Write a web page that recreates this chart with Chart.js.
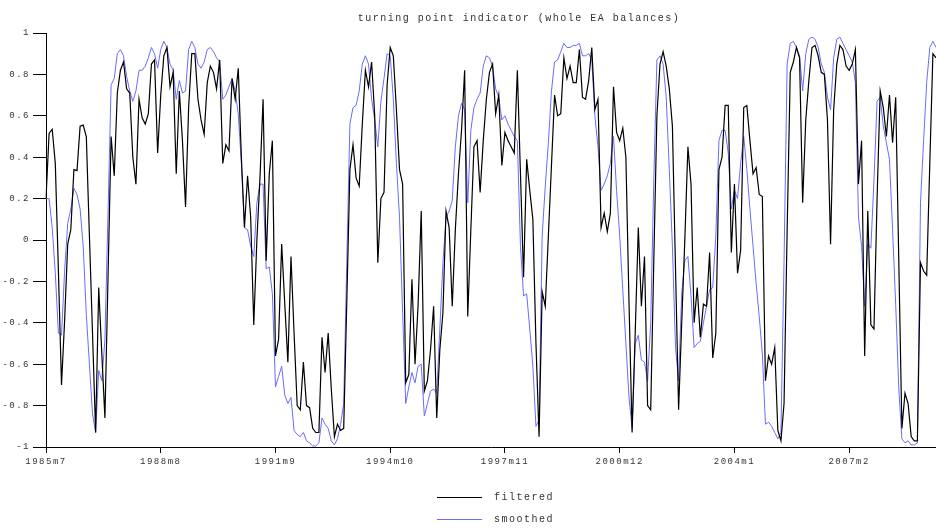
<!DOCTYPE html>
<html>
<head>
<meta charset="utf-8">
<script src="https://cdn.jsdelivr.net/npm/chart.js@4/dist/chart.umd.min.js"></script>
<style>
  html, body { margin: 0; padding: 0; background: #fff; }
  #wrap { width: 936px; height: 530px; position: relative; }
</style>
</head>
<body>
<div id="wrap"><canvas id="tpi"></canvas></div>
<script>
// Monthly turning point indicator, 1985m7 .. 2009m6
const startYear = 1985;
const startMonth = 7;
const monthCount = 288;
const labelEvery = 37;
const titleText = 'turning point indicator (whole EA balances)';

const months = [];
for (let i = 0; i < monthCount; i++) {
  const m = startMonth - 1 + i;
  months.push((startYear + Math.floor(m / 12)) + 'm' + (m % 12 + 1));
}

const filtered = [
  0.20, 0.515, 0.535, 0.37, -0.15, -0.70, -0.39, -0.02, 0.05, 0.34,
  0.335, 0.55, 0.555, 0.50, 0.02, -0.45, -0.93, -0.23, -0.55, -0.86,
  -0.18, 0.50, 0.31, 0.71, 0.82, 0.86, 0.73, 0.71, 0.40, 0.27,
  0.68, 0.59, 0.56, 0.61, 0.85, 0.87, 0.42, 0.70, 0.89, 0.93,
  0.74, 0.81, 0.32, 0.72, 0.48, 0.16, 0.64, 0.90, 0.90, 0.68,
  0.58, 0.51, 0.76, 0.84, 0.81, 0.73, 0.87, 0.37, 0.46, 0.43,
  0.78, 0.68, 0.83, 0.40, 0.06, 0.31, 0.11, -0.41, 0.00, 0.30,
  0.68, -0.10, 0.32, 0.48, -0.56, -0.48, -0.02, -0.31, -0.59, -0.08,
  -0.45, -0.80, -0.82, -0.59, -0.80, -0.81, -0.91, -0.93, -0.93, -0.47,
  -0.64, -0.45, -0.72, -0.95, -0.89, -0.92, -0.91, -0.30, 0.34, 0.46,
  0.30, 0.26, 0.56, 0.82, 0.74, 0.86, 0.60, -0.11, 0.20, 0.23,
  0.75, 0.93, 0.89, 0.63, 0.34, 0.27, -0.69, -0.65, -0.19, -0.60,
  -0.31, 0.14, -0.73, -0.68, -0.53, -0.32, -0.86, -0.53, -0.35, 0.14,
  0.06, -0.32, 0.05, 0.32, 0.53, 0.82, -0.37, 0.05, 0.45, 0.48,
  0.23, 0.48, 0.68, 0.81, 0.85, 0.61, 0.70, 0.36, 0.52, 0.48,
  0.45, 0.42, 0.82, 0.32, -0.18, 0.39, 0.24, 0.10, -0.50, -0.95,
  -0.25, -0.32, 0.02, 0.36, 0.70, 0.60, 0.61, 0.88, 0.78, 0.84,
  0.76, 0.76, 0.92, 0.69, 0.68, 0.77, 0.93, 0.63, 0.68, 0.06,
  0.13, 0.04, 0.13, 0.74, 0.52, 0.48, 0.54, 0.40, -0.30, -0.93,
  -0.45, 0.06, -0.32, -0.08, -0.80, -0.82, -0.10, 0.60, 0.85, 0.91,
  0.84, 0.73, 0.55, -0.14, -0.82, -0.40, 0.00, 0.45, 0.27, -0.40,
  -0.23, -0.47, -0.31, -0.32, -0.06, -0.57, -0.45, 0.34, 0.40, 0.65,
  0.65, -0.06, 0.27, -0.16, -0.05, 0.64, 0.65, 0.48, 0.32, 0.35,
  0.22, 0.21, -0.68, -0.56, -0.60, -0.52, -0.92, -0.97, -0.79, 0.05,
  0.81, 0.86, 0.93, 0.88, 0.18, 0.58, 0.77, 0.93, 0.94, 0.89,
  0.81, 0.80, 0.58, -0.02, 0.63, 0.85, 0.94, 0.92, 0.84, 0.82,
  0.85, 0.92, 0.27, 0.48, -0.56, 0.14, -0.41, -0.43, 0.20, 0.72,
  0.64, 0.50, 0.70, 0.47, 0.69, -0.10, -0.91, -0.74, -0.79, -0.95,
  -0.97, -0.97, -0.11, -0.15, -0.17, 0.37, 0.90, 0.88
];

const smoothed = [
  0.20, 0.20, 0.06, -0.16, -0.45, -0.46, -0.15, 0.08, 0.15, 0.25,
  0.22, 0.15, -0.03, -0.36, -0.60, -0.84, -0.93, -0.63, -0.68, -0.48,
  0.13, 0.75, 0.78, 0.90, 0.92, 0.89, 0.79, 0.72, 0.67, 0.72,
  0.82, 0.82, 0.84, 0.88, 0.93, 0.90, 0.83, 0.92, 0.96, 0.93,
  0.85, 0.82, 0.68, 0.77, 0.71, 0.72, 0.92, 0.96, 0.93, 0.85,
  0.83, 0.86, 0.92, 0.93, 0.91, 0.88, 0.86, 0.68, 0.70, 0.74,
  0.78, 0.72, 0.61, 0.37, 0.06, 0.05, -0.03, -0.08, 0.18, 0.27,
  0.27, -0.14, -0.13, -0.26, -0.71, -0.66, -0.61, -0.75, -0.79, -0.76,
  -0.92, -0.94, -0.95, -0.93, -0.97, -0.98, -0.995, -0.995, -0.98, -0.86,
  -0.89, -0.91, -0.97, -0.99, -0.96, -0.89, -0.79, -0.10, 0.56, 0.64,
  0.65, 0.72, 0.85, 0.89, 0.85, 0.68, 0.58, 0.45, 0.67, 0.78,
  0.90, 0.89, 0.68, 0.37, 0.11, -0.35, -0.79, -0.71, -0.64, -0.69,
  -0.61, -0.60, -0.85, -0.79, -0.73, -0.72, -0.74, -0.43, -0.11, 0.11,
  0.14, 0.19, 0.45, 0.60, 0.66, 0.63, 0.18, 0.53, 0.64, 0.68,
  0.71, 0.84, 0.89, 0.88, 0.84, 0.73, 0.69, 0.58, 0.60, 0.56,
  0.53, 0.50, 0.48, -0.03, -0.27, -0.26, -0.43, -0.61, -0.90, -0.87,
  0.02, 0.26, 0.47, 0.72, 0.86, 0.87, 0.91, 0.95, 0.93, 0.93,
  0.94, 0.94, 0.95, 0.89, 0.89, 0.90, 0.87, 0.60, 0.45, 0.24,
  0.27, 0.31, 0.37, 0.50, 0.24, 0.02, -0.24, -0.50, -0.76, -0.91,
  -0.50, -0.46, -0.58, -0.59, -0.68, -0.40, 0.29, 0.87, 0.89, 0.85,
  0.69, 0.34, -0.03, -0.52, -0.68, -0.26, -0.10, -0.08, -0.27, -0.52,
  -0.50, -0.49, -0.40, -0.32, -0.24, -0.23, 0.02, 0.48, 0.53, 0.53,
  0.42, 0.15, 0.24, 0.20, 0.37, 0.50, 0.34, 0.15, -0.03, -0.21,
  -0.37, -0.55, -0.89, -0.88, -0.90, -0.93, -0.96, -0.93, -0.10, 0.85,
  0.95, 0.96, 0.93, 0.89, 0.72, 0.90, 0.97, 0.98, 0.97, 0.93,
  0.85, 0.81, 0.69, 0.63, 0.88, 0.97, 0.98, 0.95, 0.92, 0.89,
  0.86, 0.76, 0.11, -0.03, -0.32, -0.02, -0.04, 0.29, 0.67, 0.69,
  0.55, 0.47, 0.39, 0.05, -0.31, -0.72, -0.96, -0.98, -0.97, -0.99,
  -0.99, -0.98, 0.18, 0.48, 0.76, 0.93, 0.96, 0.93
];

const monoFont = '"Liberation Mono", "DejaVu Sans Mono", monospace';
const textColor = '#333';

// Wide, typewriter-like lettering for every text on the canvas
const letterSpacingPlugin = {
  id: 'letterSpacing',
  beforeUpdate(chart) { chart.ctx.letterSpacing = '1.5px'; },
  beforeDraw(chart) { chart.ctx.letterSpacing = '1.5px'; }
};

// Title above the plot and a stacked legend beneath the axis
const titleAndLegend = {
  id: 'titleAndLegend',
  afterDraw(chart) {
    const ctx = chart.ctx;
    ctx.save();
    ctx.letterSpacing = '1.5px';
    ctx.font = '10px ' + monoFont;
    ctx.fillStyle = textColor;
    ctx.textBaseline = 'middle';
    ctx.textAlign = 'center';
    ctx.fillText(titleText, 519, 18);

    ctx.textAlign = 'left';
    chart.data.datasets.forEach((ds, i) => {
      const y = 497.5 + i * 22;
      ctx.beginPath();
      ctx.strokeStyle = ds.borderColor;
      ctx.lineWidth = ds.borderWidth;
      ctx.moveTo(437, y);
      ctx.lineTo(482, y);
      ctx.stroke();
      ctx.fillStyle = textColor;
      ctx.fillText(ds.label, 494, y);
    });
    ctx.restore();
  }
};

new Chart(document.getElementById('tpi'), {
  type: 'line',
  data: {
    labels: months,
    datasets: [
      {
        label: 'filtered',
        data: filtered,
        borderColor: '#000000',
        borderWidth: 1.2,
        pointRadius: 0,
        tension: 0,
        fill: false
      },
      {
        label: 'smoothed',
        data: smoothed,
        borderColor: '#6b6bff',
        borderWidth: 1,
        pointRadius: 0,
        tension: 0,
        fill: false
      }
    ]
  },
  options: {
    responsive: true,
    maintainAspectRatio: false,
    animation: false,
    devicePixelRatio: 1,
    layout: { padding: { top: 33, bottom: 58, left: 0, right: 0 } },
    plugins: {
      legend: { display: false },
      title: { display: false },
      tooltip: { enabled: false }
    },
    scales: {
      x: {
        type: 'category',
        offset: false,
        grid: { drawOnChartArea: false, drawTicks: true, tickLength: 6, color: '#000', lineWidth: 1 },
        border: { display: true, color: '#000', width: 1 },
        ticks: {
          autoSkip: false,
          maxRotation: 0,
          padding: 3,
          color: textColor,
          font: { family: monoFont, size: 9 }
        },
        afterBuildTicks(scale) {
          scale.ticks = scale.ticks.filter(t => t.value % labelEvery === 0);
        },
        afterFit(scale) { scale.height = 25; }
      },
      y: {
        min: -1,
        max: 1,
        grid: { drawOnChartArea: false, drawTicks: true, tickLength: 13, color: '#000', lineWidth: 1 },
        border: { display: true, color: '#000', width: 1 },
        ticks: {
          stepSize: 0.2,
          padding: 3,
          color: textColor,
          font: { family: monoFont, size: 9 },
          callback: v => String(Number(v.toFixed(1)))
        },
        afterFit(scale) { scale.width = 46; }
      }
    }
  },
  plugins: [letterSpacingPlugin, titleAndLegend]
});
</script>
</body>
</html>
